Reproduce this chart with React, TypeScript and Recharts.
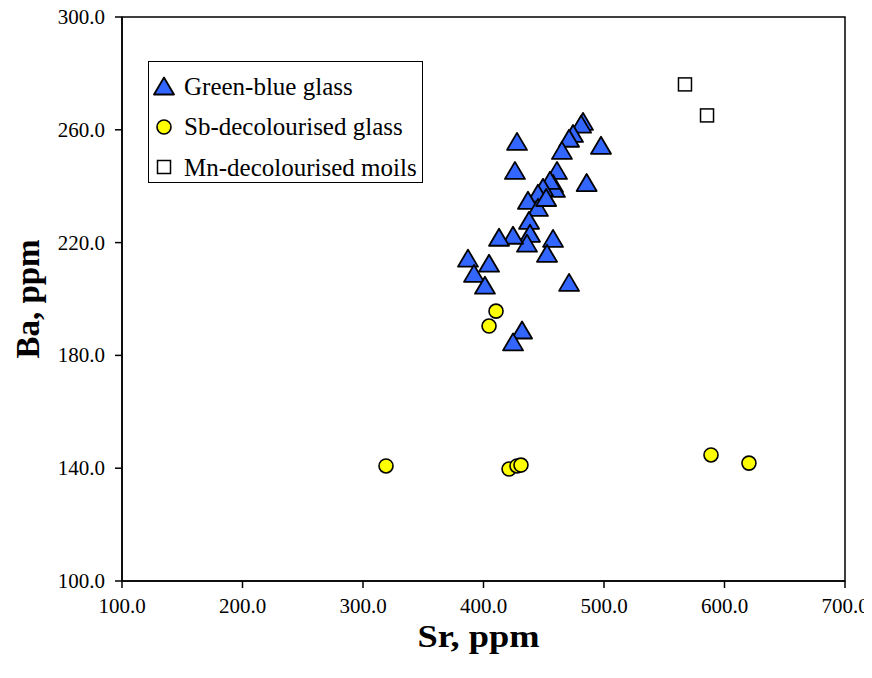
import React from "react";
import {
  ScatterChart,
  Scatter,
  XAxis,
  YAxis,
  ReferenceArea,
} from "recharts";

// Sr / Ba concentrations (ppm) per glass group
const greenBlueSr = [
  482.6, 481.0, 474.3, 471.0, 465.1, 497.5, 427.8, 426.1, 461.0, 457.7,
  459.3, 455.2, 449.4, 445.2, 436.9, 445.2, 437.8, 438.6, 436.1, 424.5,
  412.9, 457.7, 452.7, 387.1, 404.6, 392.1, 401.2, 471.0, 432.0, 424.5,
  485.6, 452.0,
];
const greenBlueBa = [
  263.0, 262.0, 258.7, 257.0, 252.7, 254.5, 255.9, 245.6, 245.6, 241.0,
  239.2, 242.1, 239.6, 237.5, 235.0, 232.5, 227.9, 223.3, 219.8, 222.6,
  221.9, 221.5, 216.2, 214.5, 212.7, 209.1, 204.9, 205.9, 189.0, 184.8,
  241.3, 236.0,
];

const sbSr = [410.4, 404.6, 319.1, 421.2, 427.8, 431.1, 588.8, 620.3];
const sbBa = [195.7, 190.4, 140.8, 139.7, 140.8, 141.1, 144.7, 141.8];

const mnSr = [567.2, 585.5];
const mnBa = [276.1, 265.1];

const xTicks = [100, 200, 300, 400, 500, 600, 700];
const yTicks = [100, 140, 180, 220, 260, 300];

const seriesNames = [
  "Green-blue glass",
  "Sb-decolourised glass",
  "Mn-decolourised moils",
];

const toPoints = (xs: number[], ys: number[]) =>
  xs.map((sr, i) => ({ sr, ba: ys[i] }));

const greenBlue = toPoints(greenBlueSr, greenBlueBa);
const sbGlass = toPoints(sbSr, sbBa);
const mnMoils = toPoints(mnSr, mnBa);

const FONT = "Liberation Serif, Times New Roman, serif";
const BLUE = "#3366FF";
const YELLOW = "#FFFF00";

const TriangleMark = (props: any) => {
  const { cx, cy } = props;
  if (cx == null || cy == null) return null;
  const h = 17;
  const w = 20;
  const pts = `${cx},${cy - h / 2} ${cx + w / 2},${cy + h / 2} ${cx - w / 2},${cy + h / 2}`;
  return <polygon points={pts} fill={BLUE} stroke="#000" strokeWidth={1.8} strokeLinejoin="round" />;
};

const CircleMark = (props: any) => {
  const { cx, cy } = props;
  if (cx == null || cy == null) return null;
  return <circle cx={cx} cy={cy} r={7} fill={YELLOW} stroke="#000" strokeWidth={1.6} />;
};

const SquareMark = (props: any) => {
  const { cx, cy } = props;
  if (cx == null || cy == null) return null;
  return <rect x={cx - 6.5} y={cy - 6.5} width={13} height={13} fill="#fff" stroke="#000" strokeWidth={1.5} />;
};

const legendMarks = [TriangleMark, CircleMark, SquareMark];

const LegendBox = () => (
  <div
    style={{
      position: "absolute",
      left: 148,
      top: 61,
      border: "1.5px solid #000",
      background: "#fff",
      width: 275,
      height: 122,
      boxSizing: "border-box",
      paddingTop: 4,
      fontFamily: FONT,
      fontSize: 25,
      color: "#000",
    }}
  >
    {seriesNames.map((name, i) => {
      const Mark = legendMarks[i];
      return (
        <div
          key={name}
          style={{ display: "flex", alignItems: "center", height: 40.5, paddingLeft: 3 }}
        >
          <svg width={24} height={24} style={{ display: "block", overflow: "visible" }}>
            <Mark cx={12} cy={12} />
          </svg>
          <span style={{ marginLeft: 8, lineHeight: 1, whiteSpace: "nowrap" }}>{name}</span>
        </div>
      );
    })}
  </div>
);

const XTick = (props: any) => {
  const { x, y, payload } = props;
  return (
    <text x={x} y={y + 17} textAnchor="middle" fontFamily={FONT} fontSize={21} fill="#000">
      {Number(payload.value).toFixed(1)}
    </text>
  );
};

const YTick = (props: any) => {
  const { x, y, payload } = props;
  return (
    <text x={x} y={y} textAnchor="end" dominantBaseline="central" fontFamily={FONT} fontSize={21} fill="#000">
      {Number(payload.value).toFixed(1)}
    </text>
  );
};

const XTitle = (props: any) => {
  const { viewBox } = props;
  const cx = viewBox.x + viewBox.width / 2 - 5;
  return (
    <text
      x={cx}
      y={viewBox.y + 66}
      textAnchor="middle"
      fontFamily={FONT}
      fontWeight="bold"
      fontSize={32}
      textLength={122}
      lengthAdjust="spacingAndGlyphs"
      fill="#000"
    >
      Sr, ppm
    </text>
  );
};

const YTitle = (props: any) => {
  const { viewBox } = props;
  const x = viewBox.x + 28;
  const y = viewBox.y + viewBox.height / 2;
  return (
    <text
      x={x}
      y={y}
      transform={`rotate(-90, ${x}, ${y})`}
      textAnchor="middle"
      dominantBaseline="central"
      fontFamily={FONT}
      fontWeight="bold"
      fontSize={33}
      fill="#000"
    >
      Ba, ppm
    </text>
  );
};

export default function App() {
  return (
    <div style={{ position: "relative", margin: "-8px 0 0 -8px", width: 872, height: 678, background: "#fff" }}>
      <ScatterChart
        width={872}
        height={678}
        margin={{ top: 17, right: 27, bottom: 0, left: 0 }}
        style={{ fontFamily: FONT }}
      >
        <XAxis
          type="number"
          dataKey="sr"
          domain={[100, 700]}
          ticks={xTicks}
          allowDataOverflow
          tick={<XTick />}
          tickSize={7}
          tickMargin={8}
          height={97}
          axisLine={{ stroke: "#000", strokeWidth: 1.5 }}
          tickLine={{ stroke: "#000", strokeWidth: 1.5 }}
          label={<XTitle />}
        />
        <YAxis
          type="number"
          dataKey="ba"
          domain={[100, 300]}
          ticks={yTicks}
          allowDataOverflow
          tick={<YTick />}
          tickSize={7}
          tickMargin={10}
          width={122}
          axisLine={{ stroke: "#000", strokeWidth: 1.5 }}
          tickLine={{ stroke: "#000", strokeWidth: 1.5 }}
          label={<YTitle />}
        />
        <ReferenceArea x1={100} x2={700} y1={100} y2={300} fill="none" stroke="#000" strokeWidth={1.5} />
        <Scatter name={seriesNames[0]} data={greenBlue} shape={<TriangleMark />} isAnimationActive={false} />
        <Scatter name={seriesNames[1]} data={sbGlass} shape={<CircleMark />} isAnimationActive={false} />
        <Scatter name={seriesNames[2]} data={mnMoils} shape={<SquareMark />} isAnimationActive={false} />
      </ScatterChart>
      <LegendBox />
    </div>
  );
}
